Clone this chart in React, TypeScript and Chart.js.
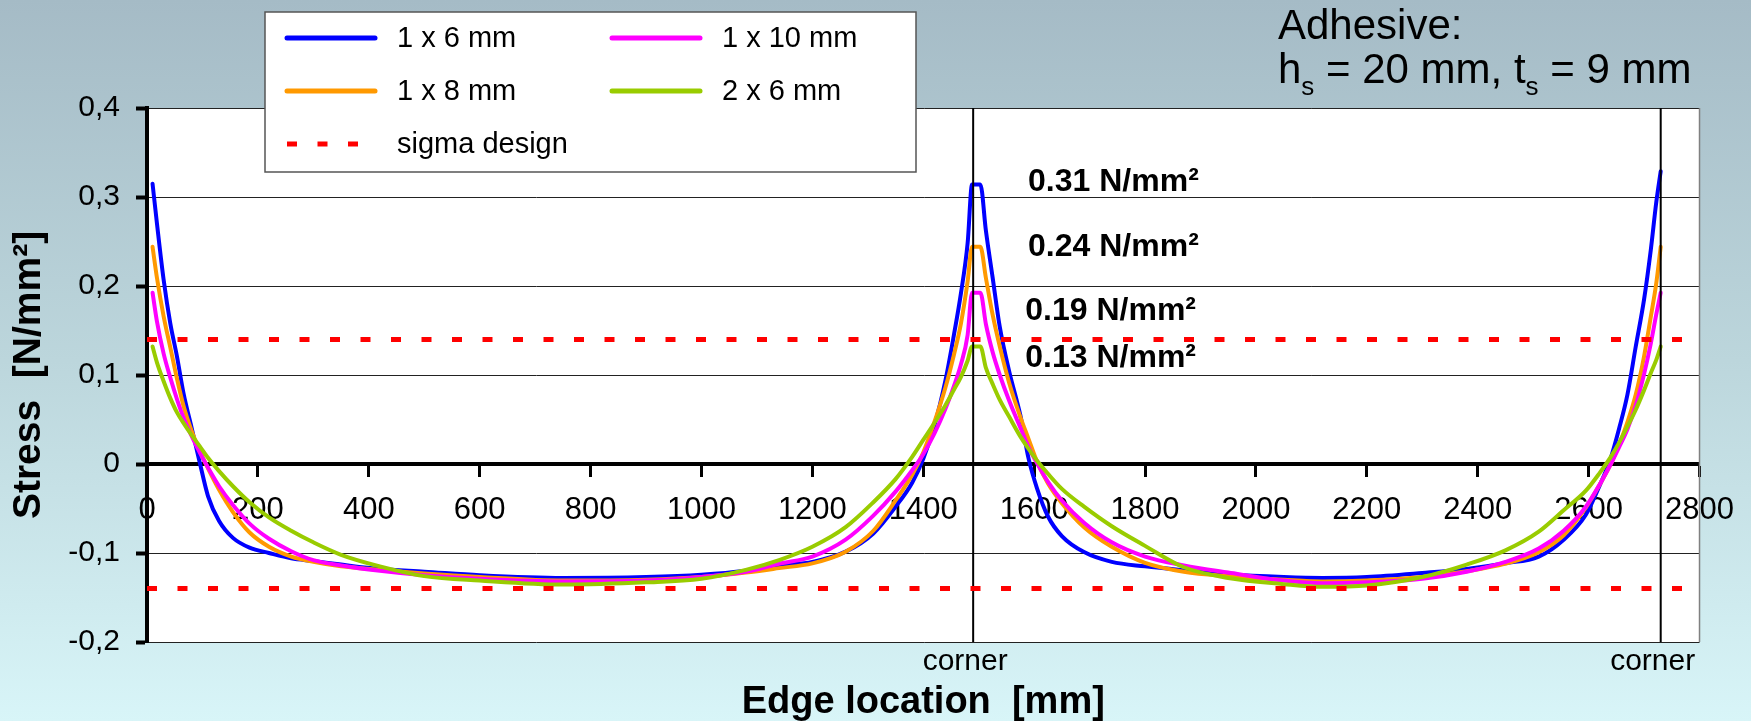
import React, { useEffect, useRef } from 'react';
import { Chart, registerables } from 'chart.js';

Chart.register(...registerables);

const FONT = "'Liberation Sans', Arial, Helvetica, sans-serif";

// Edge location [mm]
const edgeLocation = [
  10, 18, 30, 42, 54, 66, 80, 95, 110, 130, 155, 185, 220, 260, 300, 350, 420, 500, 600, 750,
  900, 1000, 1080, 1140, 1200, 1260, 1310, 1350, 1380, 1400, 1420, 1440, 1455, 1468, 1480, 1488,
  1503, 1513, 1525, 1538, 1555, 1575, 1590, 1605, 1625, 1650, 1690, 1740, 1800, 1870, 1950, 2050,
  2120, 2200, 2300, 2380, 2450, 2510, 2555, 2595, 2620, 2640, 2655, 2670, 2685, 2700, 2712, 2722, 2730,
];

// Stress [N/mm²]
const stress1x6 = [
  0.315, 0.27, 0.207, 0.158, 0.121, 0.079, 0.042, 0.002, -0.036, -0.064, -0.083, -0.094, -0.1, -0.106, -0.109, -0.113, -0.118, -0.121, -0.125, -0.128,
  -0.127, -0.1245, -0.12, -0.114, -0.11, -0.0985, -0.078, -0.048, -0.021, 0.006, 0.043, 0.094, 0.144, 0.192, 0.248, 0.314,
  0.314, 0.262, 0.21, 0.154, 0.104, 0.055, 0.006, -0.027, -0.059, -0.081, -0.099, -0.11, -0.115, -0.1195, -0.124, -0.127,
  -0.128, -0.127, -0.1225, -0.118, -0.1115, -0.104, -0.085, -0.057, -0.024, 0.007, 0.04, 0.078, 0.132, 0.185, 0.24, 0.294, 0.329,
];
const stress1x8 = [
  0.244, 0.209, 0.166, 0.131, 0.096, 0.065, 0.038, 0.015, -0.005, -0.029, -0.054, -0.077, -0.093, -0.104, -0.11, -0.115, -0.119, -0.123, -0.127, -0.131,
  -0.13, -0.127, -0.122, -0.117, -0.1116, -0.0985, -0.075, -0.041, -0.012, 0.013, 0.047, 0.086, 0.122, 0.158, 0.205, 0.244,
  0.244, 0.209, 0.168, 0.132, 0.091, 0.053, 0.028, 0.003, -0.022, -0.044, -0.071, -0.093, -0.111, -0.121, -0.126, -0.13,
  -0.132, -0.131, -0.127, -0.1205, -0.112, -0.099, -0.08, -0.049, -0.023, 0.0, 0.022, 0.047, 0.078, 0.121, 0.165, 0.203, 0.244,
];
const stress1x10 = [
  0.1925, 0.16, 0.124, 0.097, 0.073, 0.052, 0.032, 0.013, -0.004, -0.025, -0.046, -0.067, -0.084, -0.098, -0.108, -0.114, -0.12, -0.125, -0.129, -0.132,
  -0.131, -0.127, -0.121, -0.112, -0.104, -0.085, -0.058, -0.031, -0.007, 0.011, 0.034, 0.062, 0.087, 0.112, 0.145, 0.1925,
  0.1925, 0.157, 0.126, 0.1, 0.071, 0.041, 0.019, 0.001, -0.02, -0.041, -0.066, -0.088, -0.104, -0.114, -0.122, -0.131,
  -0.134, -0.133, -0.129, -0.121, -0.11, -0.095, -0.075, -0.048, -0.023, 0.0, 0.019, 0.039, 0.066, 0.101, 0.135, 0.168, 0.1925,
];
const stress2x6 = [
  0.132, 0.114, 0.093, 0.074, 0.058, 0.046, 0.033, 0.02, 0.007, -0.008, -0.025, -0.043, -0.06, -0.075, -0.088, -0.102, -0.115, -0.126, -0.131, -0.1355,
  -0.133, -0.129, -0.119, -0.108, -0.093, -0.071, -0.043, -0.017, 0.008, 0.027, 0.046, 0.066, 0.083, 0.098, 0.116, 0.132,
  0.132, 0.108, 0.09, 0.072, 0.053, 0.031, 0.017, 0.004, -0.011, -0.028, -0.048, -0.07, -0.092, -0.116, -0.128, -0.135,
  -0.138, -0.1365, -0.127, -0.113, -0.097, -0.076, -0.052, -0.03, -0.01, 0.008, 0.024, 0.042, 0.061, 0.083, 0.102, 0.117, 0.132,
];

const seriesLabels = ['1 x 6 mm', '1 x 8 mm', '1 x 10 mm', '2 x 6 mm'];
const seriesColors = ['#0000ff', '#ff9900', '#ff00ff', '#99cc00'];
const sigmaDesign = 0.14;
const sigmaLabel = 'sigma design';
const cornerLocations = [1490, 2730];
const cornerText = 'corner';
const peakTexts = ['0.31 N/mm²', '0.24 N/mm²', '0.19 N/mm²', '0.13 N/mm²'];
const peakTextX = [1589, 1589, 1584, 1584];
const peakTextY = [0.307, 0.234, 0.162, 0.109];
const xTitle = 'Edge location  [mm]';
const yTitle = 'Stress  [N/mm²]';
const adhesiveTitle = 'Adhesive:';
const adhesiveParts: [string, boolean][] = [
  ['h', false], ['s', true], [' = 20 mm, t', false], ['s', true], [' = 9 mm', false],
];
const xMin = 0, xMax = 2800, xStep = 200;
const yMin = -0.2, yMax = 0.4, yStep = 0.1;

const toPoints = (ys: number[]) => edgeLocation.map((x, i) => ({ x, y: ys[i] }));

const plotBackground = {
  id: 'plotBackground',
  beforeDraw(chart: any) {
    const { ctx, chartArea: a } = chart;
    ctx.save();
    ctx.fillStyle = '#ffffff';
    ctx.fillRect(a.left, a.top, a.right - a.left, a.bottom - a.top);
    ctx.restore();
  },
};

const decorations = {
  id: 'decorations',
  afterDraw(chart: any) {
    const { ctx, chartArea: a } = chart;
    const xs = chart.scales.x;
    const ys = chart.scales.y;
    ctx.save();
    // right border of the plot
    ctx.strokeStyle = '#808080';
    ctx.lineWidth = 1.5;
    ctx.beginPath();
    ctx.moveTo(a.right, a.top);
    ctx.lineTo(a.right, a.bottom);
    ctx.stroke();

    ctx.fillStyle = '#000';
    // corner labels
    ctx.font = `30px ${FONT}`;
    ctx.textAlign = 'center';
    ctx.textBaseline = 'alphabetic';
    cornerLocations.forEach((c) => {
      ctx.fillText(cornerText, xs.getPixelForValue(c) - 8, 670);
    });
    // x axis title
    ctx.font = `bold 38px ${FONT}`;
    ctx.fillText(xTitle, (a.left + a.right) / 2, 713);

    // peak annotations
    ctx.font = `bold 32px ${FONT}`;
    ctx.textAlign = 'left';
    peakTexts.forEach((t, i) => {
      ctx.fillText(t, xs.getPixelForValue(peakTextX[i]), ys.getPixelForValue(peakTextY[i]));
    });

    // adhesive text
    ctx.font = `42px ${FONT}`;
    ctx.fillText(adhesiveTitle, 1278, 39);
    let cx = 1278;
    adhesiveParts.forEach(([t, sub]) => {
      ctx.font = sub ? `26px ${FONT}` : `42px ${FONT}`;
      ctx.fillText(t, cx, sub ? 95 : 83);
      cx += ctx.measureText(t).width;
    });

    // legend
    const box = { x: 265, y: 12, w: 651, h: 160 };
    ctx.fillStyle = '#ffffff';
    ctx.fillRect(box.x, box.y, box.w, box.h);
    ctx.strokeStyle = '#555555';
    ctx.lineWidth = 1.5;
    ctx.strokeRect(box.x, box.y, box.w, box.h);
    const entries = [[0, 0, 0], [2, 1, 0], [1, 0, 1], [3, 1, 1], [4, 0, 2]];
    const colX = [287, 612];
    const rowY = [38, 91, 144];
    ctx.font = `29px ${FONT}`;
    ctx.textBaseline = 'middle';
    entries.forEach(([di, col, row]) => {
      const ds = chart.data.datasets[di];
      const x0 = colX[col];
      const y0 = rowY[row];
      ctx.strokeStyle = ds.borderColor;
      ctx.lineWidth = 5;
      if (ds.borderDash && ds.borderDash.length) {
        ctx.setLineDash([10, 20.5]);
        ctx.lineCap = 'butt';
      } else {
        ctx.setLineDash([]);
        ctx.lineCap = 'round';
      }
      ctx.beginPath();
      ctx.moveTo(x0, y0);
      ctx.lineTo(x0 + 88, y0);
      ctx.stroke();
      ctx.setLineDash([]);
      ctx.fillStyle = '#000';
      ctx.fillText(ds.label, x0 + 110, y0 + 1);
    });
    ctx.restore();
  },
};

export default function App() {
  const ref = useRef<HTMLCanvasElement>(null);
  useEffect(() => {
    const seriesData = [stress1x6, stress1x8, stress1x10, stress2x6];
    const datasets: any[] = seriesData.map((ys, i) => ({
      label: seriesLabels[i],
      data: toPoints(ys),
      borderColor: seriesColors[i],
      backgroundColor: seriesColors[i],
      borderWidth: 4,
      pointRadius: 0,
      cubicInterpolationMode: 'monotone',
      borderJoinStyle: 'round',
      borderCapStyle: 'round',
      fill: false,
      order: 4 - i,
    }));
    [sigmaDesign, -sigmaDesign].forEach((v) => {
      datasets.push({
        label: sigmaLabel,
        data: [{ x: xMin, y: v }, { x: xMax, y: v }],
        borderColor: '#ff0000',
        borderWidth: 5,
        borderDash: [10, 20.5],
        borderCapStyle: 'butt',
        pointRadius: 0,
        fill: false,
        order: 0,
      });
    });
    cornerLocations.forEach((c) => {
      datasets.push({
        label: cornerText,
        data: [{ x: c, y: yMin }, { x: c, y: yMax }],
        borderColor: '#000000',
        borderWidth: 2,
        pointRadius: 0,
        fill: false,
        order: 0,
      });
    });

    const chart = new Chart(ref.current as HTMLCanvasElement, {
      type: 'line',
      data: { datasets },
      options: {
        animation: false,
        responsive: false,
        devicePixelRatio: 1,
        events: [],
        layout: { padding: { left: 0, top: 108, right: 49, bottom: 79 } },
        plugins: { legend: { display: false }, tooltip: { enabled: false } },
        scales: {
          x: {
            type: 'linear',
            position: { y: 0 } as any,
            min: xMin,
            max: xMax,
            grid: { display: true, drawOnChartArea: false, drawTicks: true, tickLength: 11, tickWidth: 3, tickColor: '#000' },
            border: { display: true, color: '#000', width: 4 },
            ticks: {
              stepSize: xStep,
              autoSkip: false,
              maxRotation: 0,
              padding: 17,
              color: '#000',
              font: { family: FONT, size: 31 },
              callback: (v: any) => String(Math.round(Number(v))),
            },
          },
          y: {
            type: 'linear',
            min: yMin,
            max: yMax,
            afterFit: (scale: any) => { scale.width = 147; },
            grid: { display: true, drawOnChartArea: true, color: '#222', lineWidth: 1, tickLength: 11, tickWidth: 4, tickColor: '#000' },
            border: { display: true, color: '#000', width: 4 },
            title: {
              display: true,
              text: yTitle,
              color: '#000',
              font: { family: FONT, size: 39, weight: 'bold' },
              padding: { top: 6, bottom: 0 },
            },
            ticks: {
              stepSize: yStep,
              padding: 16,
              color: '#000',
              font: { family: FONT, size: 30 },
              callback: (v: any) => {
                const r = Math.round(Number(v) * 10) / 10;
                if (r === 0) return '0';
                return r.toFixed(1).replace('.', ',');
              },
            },
          },
        },
      },
      plugins: [plotBackground, decorations],
    } as any);
    return () => chart.destroy();
  }, []);

  return (
    <div
      style={{
        position: 'fixed',
        left: 0,
        top: 0,
        width: 1751,
        height: 721,
        background: 'linear-gradient(to bottom, #a5bbc6 0%, #bcd6dc 50%, #d8f5f8 100%)',
      }}
    >
      <canvas ref={ref} width={1751} height={721} style={{ display: 'block', width: 1751, height: 721 }} />
    </div>
  );
}
